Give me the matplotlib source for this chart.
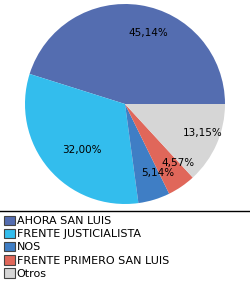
import matplotlib.pyplot as plt
from matplotlib.lines import Line2D
from matplotlib.patches import Patch

partidos = ['AHORA SAN LUIS', 'FRENTE JUSTICIALISTA', 'NOS',
            'FRENTE PRIMERO SAN LUIS', 'Otros']
porcentajes = [45.14, 32.00, 5.14, 4.57, 13.15]
colores = ['#546DB0', '#33BDED', '#3F7EC5', '#E0675A', '#D6D6D6']

plt.rcParams['font.family'] = 'DejaVu Sans'
fs = 7.5

fig = plt.figure(figsize=(2.5, 2.85), dpi=100)
ax = fig.add_axes([25 / 250, 1 - 204 / 285, 200 / 250, 200 / 285])

wedges, textos, autotextos = ax.pie(
    porcentajes, colors=colores, startangle=0, counterclock=True,
    autopct=lambda p: f'{p:.2f}%'.replace('.', ','), pctdistance=0.72,
    wedgeprops={'linewidth': 0}, textprops={'fontsize': fs, 'color': 'black'})
for t in autotextos:
    x, y = t.get_position()
    t.set_position((x + 0.12, y))
ax.set_xlim(-1, 1)
ax.set_ylim(-1, 1)
ax.set_aspect('equal')
ax.axis('off')

# linea separadora
fig.add_artist(Line2D([0, 1], [1 - 210.5 / 285] * 2, color='black', lw=1,
                      transform=fig.transFigure))

handles = [Patch(facecolor=c, edgecolor='#444444', linewidth=0.8) for c in colores]
fig.legend(handles, partidos, loc='upper left', bbox_to_anchor=(4 / 250, 1 - 215.5 / 285),
           frameon=False, fontsize=8, handlelength=0.95, handleheight=0.95,
           handletextpad=0.2, labelspacing=0.23, borderpad=0, borderaxespad=0)

fig.savefig('out.png', dpi=100)
